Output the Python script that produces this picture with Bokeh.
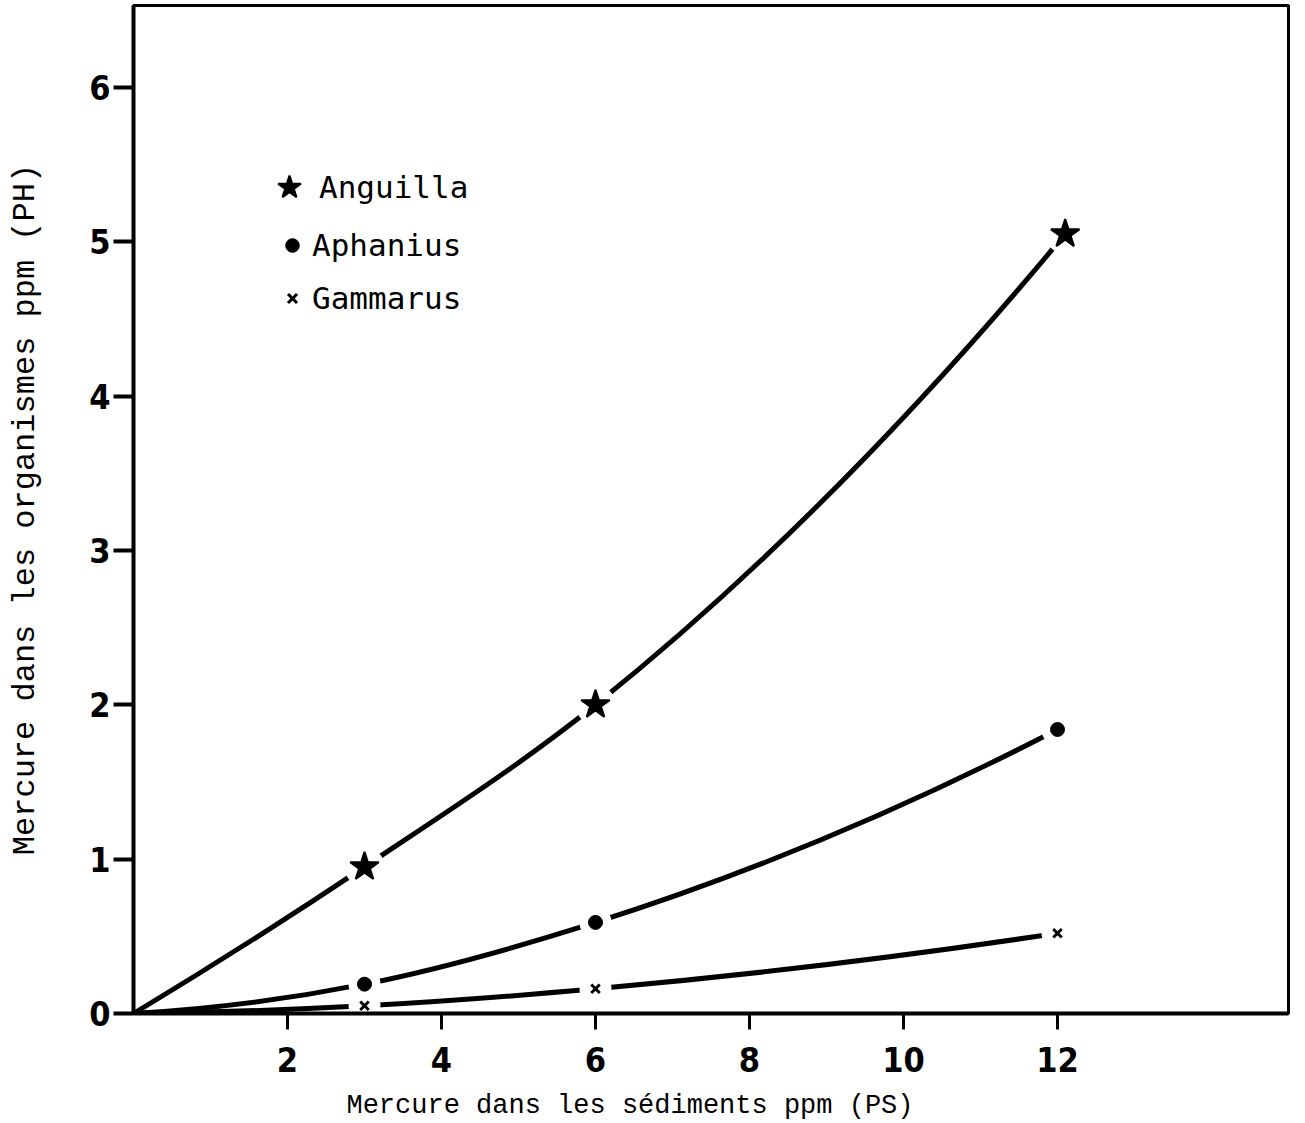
import numpy as np
from bokeh.plotting import figure
from bokeh.models import Range1d, FixedTicker, Legend, LegendItem, ColumnDataSource
from bokeh.embed import file_html
from bokeh.resources import INLINE

# ---- data ----
x_anguilla = [0.0, 3.0, 6.0, 12.1]
y_anguilla = [0.0, 0.95, 2.0, 5.05]
x_aphanius = [0.0, 3.0, 6.0, 12.0]
y_aphanius = [0.0, 0.19, 0.59, 1.84]
x_gammarus = [0.0, 3.0, 6.0, 12.0]
y_gammarus = [0.0, 0.05, 0.16, 0.52]
x_ticks = [2, 4, 6, 8, 10, 12]
y_ticks = [0, 1, 2, 3, 4, 5, 6]
series_names = ["Anguilla", "Aphanius", "Gammarus"]
x_label = "Mercure dans les sédiments ppm (PS)"
y_label = "Mercure dans les organismes ppm (PH)"


def smooth_segments(xs, ys):
    """Cubic Hermite (Bezier) segments through the measured points."""
    xs = np.asarray(xs, float)
    ys = np.asarray(ys, float)
    h = np.diff(xs)
    s = np.diff(ys) / h
    n = len(xs)
    m = np.zeros(n)
    for i in range(1, n - 1):
        m[i] = (h[i] * s[i - 1] + h[i - 1] * s[i]) / (h[i - 1] + h[i])
    m[0] = 2 * s[0] - m[1]
    m[-1] = 2 * s[-1] - m[-2]
    return ColumnDataSource(dict(
        x0=xs[:-1], y0=ys[:-1], x1=xs[1:], y1=ys[1:],
        cx0=xs[:-1] + h / 3, cy0=ys[:-1] + m[:-1] * h / 3,
        cx1=xs[1:] - h / 3, cy1=ys[1:] - m[1:] * h / 3,
    ))


p = figure(width=1300, height=1123, output_backend="svg", toolbar_location=None,
           x_range=Range1d(0, 15), y_range=Range1d(0, 6.53),
           min_border_left=133, min_border_right=12, min_border_top=5, min_border_bottom=110)
p.grid.visible = False
p.background_fill_color = "white"
p.border_fill_color = "white"
p.outline_line_color = "black"
p.outline_line_width = 3

tick_font = "DejaVu Sans Condensed, DejaVu Sans"
for ax in (p.xaxis[0], p.yaxis[0]):
    ax.axis_line_width = 4
    ax.axis_line_color = "black"
    ax.major_tick_line_color = "black"
    ax.minor_tick_line_color = None
    ax.major_tick_in = 0
    ax.major_label_text_font = tick_font
    ax.major_label_text_font_style = "bold"
    ax.major_label_text_font_size = "34px"
    ax.major_label_text_color = "black"
    ax.axis_label_text_font_style = "normal"
    ax.axis_label_text_color = "black"
    ax.axis_label_text_font = "Liberation Mono"

p.xaxis.ticker = FixedTicker(ticks=x_ticks)
p.yaxis.ticker = FixedTicker(ticks=y_ticks)
p.xaxis.major_tick_out = 16
p.xaxis.major_tick_line_width = 3
p.xaxis.major_label_standoff = 17
# trailing no-break spaces move the centred title left, as in the original
p.xaxis.axis_label = x_label + "\u00a0" * 10
p.xaxis.axis_label_text_font_size = "27px"
p.xaxis.axis_label_standoff = 16

p.yaxis.major_tick_out = 20
p.yaxis.major_tick_line_width = 4
p.yaxis.major_label_standoff = 3
p.yaxis.major_label_orientation = "horizontal"
p.yaxis.axis_label = y_label
p.yaxis.axis_label_text_font_size = "32px"
p.yaxis.axis_label_standoff = 42

# curves
for xs, ys in ((x_anguilla, y_anguilla), (x_aphanius, y_aphanius), (x_gammarus, y_gammarus)):
    p.bezier(x0="x0", y0="y0", x1="x1", y1="y1", cx0="cx0", cy0="cy0", cx1="cx1", cy1="cy1",
             source=smooth_segments(xs, ys), line_color="black", line_width=5, line_cap="round")

# white halos that open small gaps in the curves around each marker
p.scatter(x_anguilla[1:], y_anguilla[1:], marker="circle", size=40, fill_color="white", line_color=None)
p.scatter(x_aphanius[1:], y_aphanius[1:], marker="circle", size=32, fill_color="white", line_color=None)
p.scatter(x_gammarus[1:], y_gammarus[1:], marker="circle", size=32, fill_color="white", line_color=None)

r_ang = p.scatter(x_anguilla[1:], y_anguilla[1:], marker="star", size=30,
                  fill_color="black", line_color="black", line_width=2)
r_aph = p.scatter(x_aphanius[1:], y_aphanius[1:], marker="circle", size=14,
                  fill_color="black", line_color="black", line_width=1)
r_gam = p.scatter(x_gammarus[1:], y_gammarus[1:], marker="x", size=12,
                  line_color="black", line_width=3)

# legend: one block per entry so each symbol keeps its own size
legend_specs = [
    (r_ang, series_names[0], 60, (126, 796), 0),
    (r_aph, series_names[1], 34, (142, 750), 3),
    (r_gam, series_names[2], 32, (143, 697), 4),
]
for rend, name, box, loc, standoff in legend_specs:
    lg = Legend(items=[LegendItem(label=name, renderers=[rend])], location=loc,
                glyph_width=box, glyph_height=box, label_height=box,
                label_standoff=standoff, padding=0, margin=0, spacing=0,
                border_line_color=None, background_fill_alpha=0,
                label_text_font="DejaVu Sans Mono", label_text_font_size="31px",
                label_text_color="black")
    p.add_layout(lg)

open("out.html", "w").write(file_html(p, INLINE))
